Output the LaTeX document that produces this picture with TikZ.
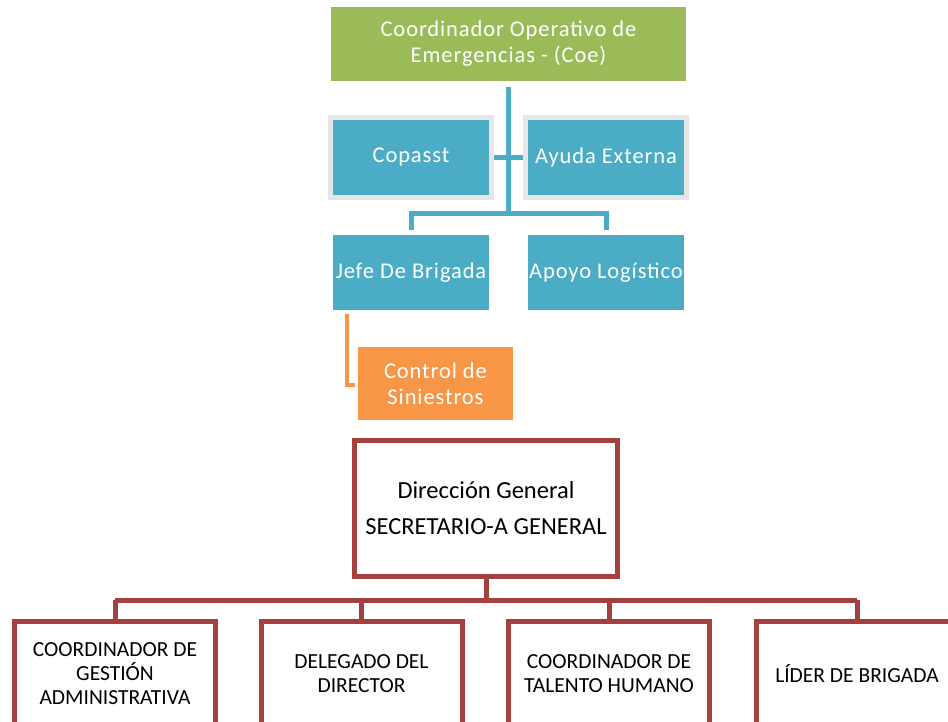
\documentclass[tikz,border=0pt]{standalone}
\usepackage{fontspec}
\setmainfont{Carlito}
\newfontfamily\spacedfont[LetterSpace=4]{Carlito}
\usetikzlibrary{positioning,calc}
\definecolor{coegreen}{RGB}{155,187,89}
\definecolor{brigblue}{RGB}{75,172,198}
\definecolor{edgegray}{RGB}{230,230,230}
\definecolor{ctrlorange}{RGB}{247,150,70}
\definecolor{dirred}{RGB}{165,64,62}
\tikzset{
    % Box styles
    coe box/.style={
        fill=coegreen,
        text=white,
        rectangle,
        minimum width=355pt,
        minimum height=74pt,
        align=center,
        font=\spacedfont\fontsize{22.5}{26}\selectfont
    },
    support box/.style={
        draw=edgegray,
        line width=5pt,
        fill=brigblue,
        text=white,
        rectangle,
        minimum width=161pt,
        minimum height=80pt,
        inner sep=1pt,
        align=center,
        font=\spacedfont\fontsize{22.5}{26}\selectfont
    },
    brigade box/.style={
        fill=brigblue,
        text=white,
        rectangle,
        minimum width=156pt,
        minimum height=75pt,
        inner sep=0pt,
        align=center,
        font=\spacedfont\fontsize{22.5}{26}\selectfont
    },
    control box/.style={
        fill=ctrlorange,
        text=white,
        rectangle,
        minimum width=155pt,
        minimum height=73pt,
        align=center,
        font=\spacedfont\fontsize{22.5}{26}\selectfont
    },
    head box/.style={
        draw=dirred,
        line width=5pt,
        fill=white,
        rectangle,
        minimum width=263pt,
        minimum height=136pt,
        align=center,
        font=\fontsize{24.5}{36}\selectfont
    },
    unit box/.style={
        draw=dirred,
        line width=5pt,
        fill=white,
        rectangle,
        minimum width=201pt,
        minimum height=105pt,
        inner sep=1pt,
        align=center,
        font=\fontsize{21.5}{24}\selectfont
    },
    % Connector styles
    blue link/.style={brigblue, line width=5pt},
    orange link/.style={ctrlorange, line width=4pt},
    red link/.style={dirred, line width=5pt}
}

\begin{document}
\begin{tikzpicture}[x=1pt, y=-1pt]
        \clip (0,0) rectangle (948,721);
        \useasboundingbox (0,0) rectangle (948,721);

        % Nodes
        \node[coe box] (coe) at (508.5,44) {Coordinador Operativo de\\Emergencias - (Coe)};
        \node[support box] (copasst) at (411,157.5) {Copasst};
        \node[support box] (ayuda) at (606,157.5) {Ayuda Externa};
        \node[brigade box] (jefe) at (411,272.5) {Jefe De Brigada};
        \node[brigade box] (apoyo) at (606,272.5) {Apoyo Logístico};
        \node[control box] (control) at (435.5,383.5) {Control de\\Siniestros};

        \node[head box] (direccion) at (486,508.5) {Dirección General\\SECRETARIO-A GENERAL};
        \node[unit box] (gestion) at (115,674) {COORDINADOR DE\\GESTIÓN\\ADMINISTRATIVA};
        \node[unit box] (delegado) at (361.5,674) {DELEGADO DEL\\DIRECTOR};
        \node[unit box] (talento) at (609,674) {COORDINADOR DE\\TALENTO HUMANO};
        \node[unit box] (lider) at (857,674) {LÍDER DE BRIGADA};

        \coordinate (bluebar) at (508.5,213);
        \coordinate (redbar) at (486,600);

        % Edges
        \draw[blue link] ($(coe.south)+(0,6)$) -- (coe.south |- bluebar);
        \draw[blue link] (copasst.east) -- (ayuda.west);
        \draw[blue link] ($(jefe.north)+(0,-5)$) |- (bluebar) -| ($(apoyo.north)+(0,-5)$);
        \draw[orange link, line cap=rect] ($(jefe.south west)+(14,6)$) |- ($(control.west)+(-5,1.5)$);

        \draw[red link] (direccion.south) -- (redbar);
        \draw[red link] (gestion.north |- redbar) -- (lider.north |- redbar);
        \foreach \unit in {gestion, delegado, talento, lider}
            \draw[red link] (\unit.north |- redbar) -- (\unit.north);
    \end{tikzpicture}
\end{document}
